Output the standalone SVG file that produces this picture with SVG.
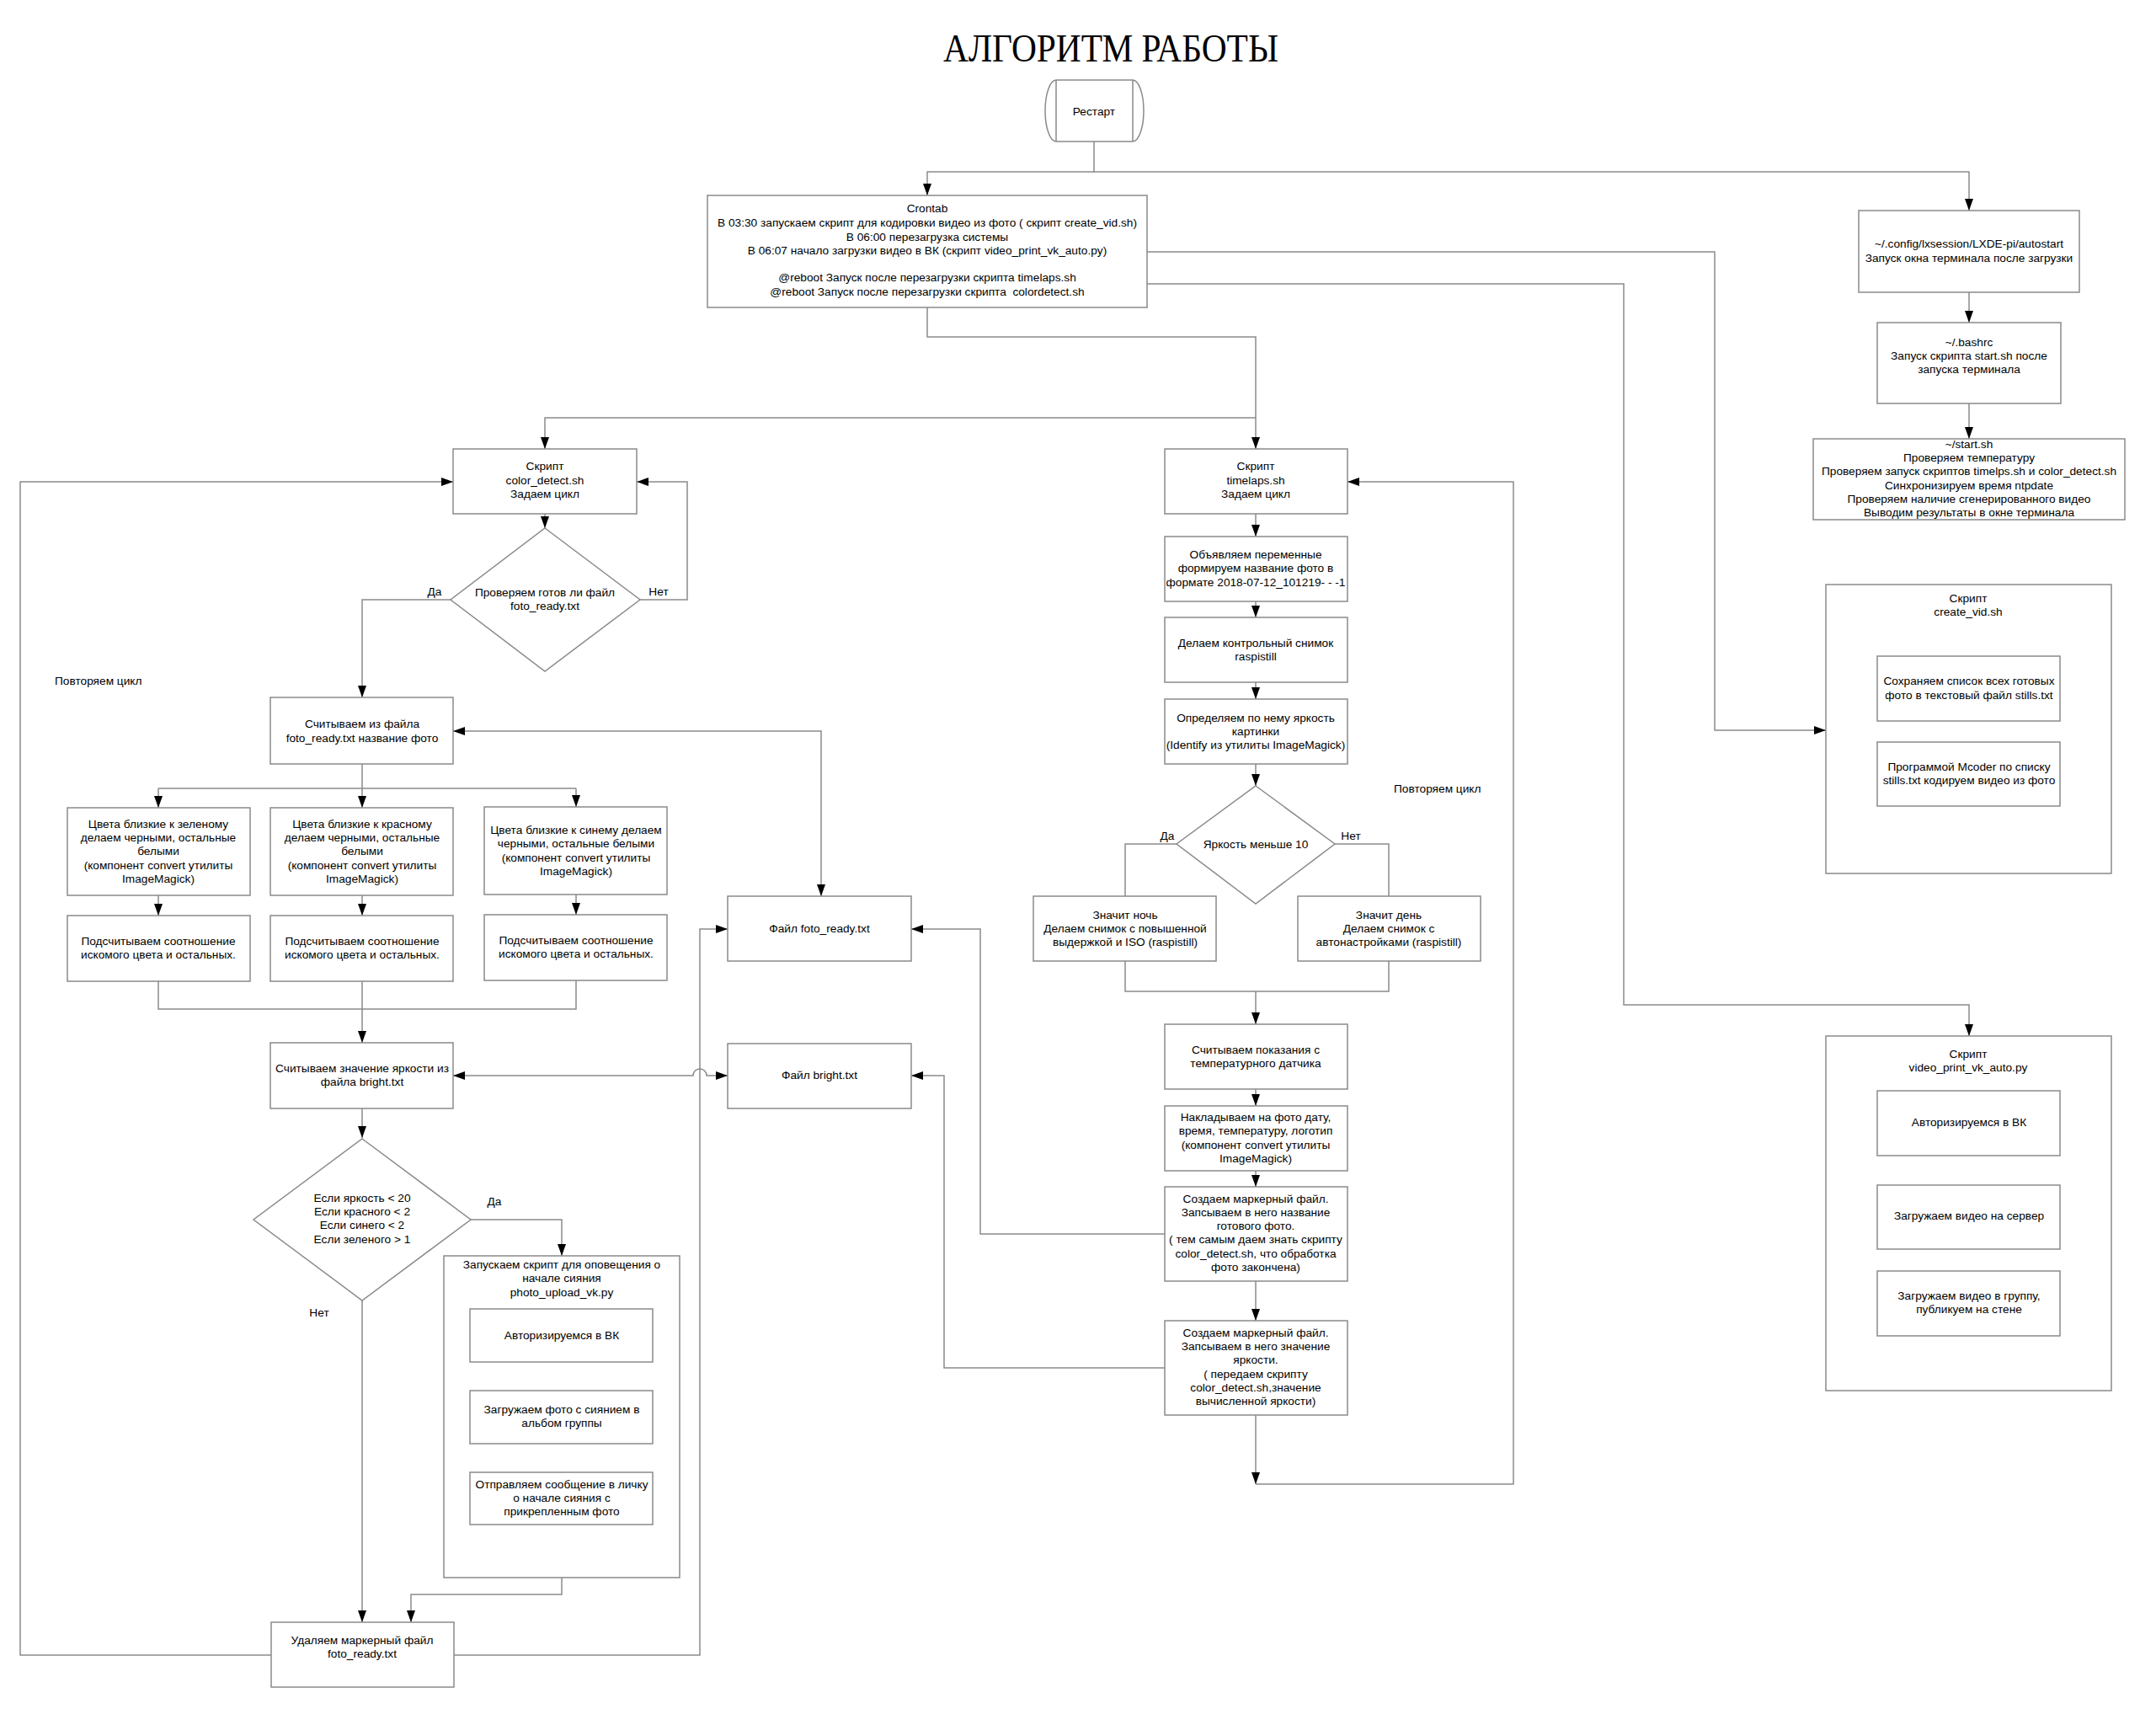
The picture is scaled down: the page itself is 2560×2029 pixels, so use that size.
<svg xmlns="http://www.w3.org/2000/svg" width="2560" height="2029" viewBox="0 0 2560 2029">
  <style>
    .b { fill: #fff; stroke: #8a8a8a; stroke-width: 1.5; }
    .c { fill: none; stroke: #8a8a8a; stroke-width: 1.5; }
    .a { marker-end: url(#ah); }
    .aa { marker-start: url(#ah); marker-end: url(#ah); }
    text { font-family: "Liberation Sans", Arial, sans-serif; font-size: 13.7px; fill: #000; white-space: pre; }
    .m { text-anchor: middle; }
  </style>
  <defs>
    <marker id="ah" viewBox="0 0 14 10" refX="14" refY="5" markerWidth="14" markerHeight="10" markerUnits="userSpaceOnUse" orient="auto-start-reverse">
      <path d="M0,0 L14,5 L0,10 z" fill="#000"/>
    </marker>
  </defs>
  <rect width="2560" height="2029" fill="#fff"/>

  <text x="1120" y="73" style="font-family:'Liberation Serif','Times New Roman',serif;font-size:46px" textLength="398" lengthAdjust="spacingAndGlyphs">АЛГОРИТМ РАБОТЫ</text>

  <!-- connectors -->
  <g id="connectors">
    <path class="c a" d="M1299,168 V204 H1101 V232"/>
    <path class="c a" d="M1299,204 H2338 V250"/>
    <path class="c a" d="M2338,347 V383"/>
    <path class="c a" d="M2338,479 V521"/>
    <path class="c a" d="M1362,299 H2036 V867 H2168"/>
    <path class="c a" d="M1362,337 H1928 V1193 H2338 V1230"/>
    <path class="c a" d="M1101,365 V400 H1491 V533"/>
    <path class="c a" d="M1491,496 H647 V533"/>
    <path class="c a" d="M2338,856 V881"/>
    <path class="c a" d="M2338,1372 V1407"/>
    <path class="c a" d="M2338,1483 V1509"/>

    <!-- color_detect loop -->
    <path class="c a" d="M647,610 V627"/>
    <path class="c a" d="M760,712 H816 V572 H756"/>
    <path class="c a" d="M535,712 H430 V828"/>
    <path class="c" d="M430,907 V936 M188,936 H684"/>
    <path class="c a" d="M188,936 V959"/>
    <path class="c a" d="M430,936 V959"/>
    <path class="c a" d="M684,936 V958"/>
    <path class="c a" d="M188,1063 V1087"/>
    <path class="c a" d="M430,1063 V1087"/>
    <path class="c a" d="M684,1062 V1086"/>
    <path class="c" d="M188,1165 V1198 H684 V1164"/>
    <path class="c a" d="M430,1165 V1238"/>
    <path class="c aa" d="M538,1277 H823 A8,8 0 0 1 839,1277 H864"/>
    <path class="c aa" d="M538,868 H975 V1064"/>
    <path class="c a" d="M430,1316 V1351"/>
    <path class="c a" d="M559,1448 H667 V1491"/>
    <path class="c a" d="M430,1544 V1926"/>
    <path class="c a" d="M667,1617 V1651"/>
    <path class="c a" d="M667,1714 V1748"/>
    <path class="c a" d="M667,1873 V1893 H488 V1926"/>
    <path class="c a" d="M322,1965 H24 V572 H538"/>
    <path class="c a" d="M539,1965 H831 V1103 H864"/>

    <!-- timelaps loop -->
    <path class="c a" d="M1491,610 V637"/>
    <path class="c a" d="M1491,714 V733"/>
    <path class="c a" d="M1491,810 V830"/>
    <path class="c a" d="M1491,907 V933"/>
    <path class="c" d="M1397,1002 H1336 V1064"/>
    <path class="c" d="M1585,1002 H1649 V1064"/>
    <path class="c" d="M1336,1141 V1177 H1649 V1141"/>
    <path class="c a" d="M1491,1177 V1216"/>
    <path class="c a" d="M1491,1293 V1313"/>
    <path class="c a" d="M1491,1390 V1409"/>
    <path class="c a" d="M1491,1521 V1568"/>
    <path class="c a" d="M1383,1465 H1164 V1103 H1082"/>
    <path class="c a" d="M1383,1624 H1121 V1277 H1082"/>
    <path class="c a" d="M1491,1680 V1762"/>
    <path class="c a" d="M1491,1762 H1797 V572 H1600"/>
  </g>

  <!-- labels on branches -->
  <g id="labels">
    <text class="m" x="516" y="707">Да</text>
    <text class="m" x="782" y="707">Нет</text>
    <text x="65" y="813">Повторяем цикл</text>
    <text class="m" x="1386" y="997">Да</text>
    <text class="m" x="1604" y="997">Нет</text>
    <text x="1655" y="941">Повторяем цикл</text>
    <text class="m" x="587" y="1431">Да</text>
    <text class="m" x="379" y="1563">Нет</text>
  </g>

  <g id="restart">
    <path class="b" d="M1254,95 H1345 A13,36.5 0 0 1 1345,168 H1254 A13,36.5 0 0 1 1254,95 Z"/>
    <path class="c" d="M1254,95 V168 M1345,95 V168"/>
    <text class="m" x="1299" y="137">Рестарт</text>
  </g>

  <g id="crontab">
    <rect class="b" x="840" y="232" width="522" height="133"/>
    <text class="m" x="1101" y="252">Crontab</text>
    <text class="m" x="1101" y="269">В 03:30 запускаем скрипт для кодировки видео из фото ( скрипт create_vid.sh)</text>
    <text class="m" x="1101" y="286">В 06:00 перезагрузка системы</text>
    <text class="m" x="1101" y="302">В 06:07 начало загрузки видео в ВК (скрипт video_print_vk_auto.py)</text>
    <text class="m" x="1101" y="334">@reboot Запуск после перезагрузки скрипта timelaps.sh</text>
    <text class="m" x="1101" y="351">@reboot Запуск после перезагрузки скрипта  colordetect.sh</text>
  </g>

  <g id="autostart">
    <rect class="b" x="2207" y="250" width="262" height="97"/>
    <text class="m" x="2338" y="294">~/.config/lxsession/LXDE-pi/autostart</text>
    <text class="m" x="2338" y="311">Запуск окна терминала после загрузки</text>
  </g>

  <g id="bashrc">
    <rect class="b" x="2229" y="383" width="218" height="96"/>
    <text class="m" x="2338" y="411">~/.bashrc</text>
    <text class="m" x="2338" y="427">Запуск скрипта start.sh после</text>
    <text class="m" x="2338" y="443">запуска терминала</text>
  </g>

  <g id="start-sh">
    <rect class="b" x="2153" y="521" width="370" height="96"/>
    <text class="m" x="2338" y="532">~/start.sh</text>
    <text class="m" x="2338" y="548">Проверяем температуру</text>
    <text class="m" x="2338" y="564">Проверяем запуск скриптов timelps.sh и color_detect.sh</text>
    <text class="m" x="2338" y="581">Синхронизируем время ntpdate</text>
    <text class="m" x="2338" y="597">Проверяем наличие сгенерированного видео</text>
    <text class="m" x="2338" y="613">Выводим результаты в окне терминала</text>
  </g>

  <g id="create-vid">
    <rect class="b" x="2168" y="694" width="339" height="343"/>
    <text class="m" x="2337" y="715">Скрипт</text>
    <text class="m" x="2337" y="731">create_vid.sh</text>
  </g>
  <g id="save-list">
    <rect class="b" x="2229" y="779" width="217" height="77"/>
    <text class="m" x="2338" y="813">Сохраняем список всех готовых</text>
    <text class="m" x="2338" y="830">фото в текстовый файл stills.txt</text>
  </g>
  <g id="mcoder">
    <rect class="b" x="2229" y="881" width="217" height="76"/>
    <text class="m" x="2338" y="915">Программой Mcoder по списку</text>
    <text class="m" x="2338" y="931">stills.txt кодируем видео из фото</text>
  </g>

  <g id="video-print">
    <rect class="b" x="2168" y="1230" width="339" height="421"/>
    <text class="m" x="2337" y="1256">Скрипт</text>
    <text class="m" x="2337" y="1272">video_print_vk_auto.py</text>
  </g>
  <g id="vk-auth">
    <rect class="b" x="2229" y="1295" width="217" height="77"/>
    <text class="m" x="2338" y="1337">Авторизируемся в ВК</text>
  </g>
  <g id="upload-server">
    <rect class="b" x="2229" y="1407" width="217" height="76"/>
    <text class="m" x="2338" y="1448">Загружаем видео на сервер</text>
  </g>
  <g id="upload-group">
    <rect class="b" x="2229" y="1509" width="217" height="77"/>
    <text class="m" x="2338" y="1543">Загружаем видео в группу,</text>
    <text class="m" x="2338" y="1559">публикуем на стене</text>
  </g>

  <!-- timelaps.sh -->
  <g id="timelaps">
    <rect class="b" x="1383" y="533" width="217" height="77"/>
    <text class="m" x="1491" y="558">Скрипт</text>
    <text class="m" x="1491" y="575">timelaps.sh</text>
    <text class="m" x="1491" y="591">Задаем цикл</text>
  </g>
  <g id="vars">
    <rect class="b" x="1383" y="637" width="217" height="77"/>
    <text class="m" x="1491" y="663">Объявляем переменные</text>
    <text class="m" x="1491" y="679">формируем название фото в</text>
    <text class="m" x="1491" y="696">формате 2018-07-12_101219- - -1</text>
  </g>
  <g id="test-shot">
    <rect class="b" x="1383" y="733" width="217" height="77"/>
    <text class="m" x="1491" y="768">Делаем контрольный снимок</text>
    <text class="m" x="1491" y="784">raspistill</text>
  </g>
  <g id="brightness">
    <rect class="b" x="1383" y="830" width="217" height="77"/>
    <text class="m" x="1491" y="857">Определяем по нему яркость</text>
    <text class="m" x="1491" y="873">картинки</text>
    <text class="m" x="1491" y="889">(Identify из утилиты ImageMagick)</text>
  </g>
  <g id="dark-check">
    <path class="b" d="M1491,933 L1585,1002 L1491,1073 L1397,1002 Z"/>
    <text class="m" x="1491" y="1007">Яркость меньше 10</text>
  </g>
  <g id="night">
    <rect class="b" x="1227" y="1064" width="217" height="77"/>
    <text class="m" x="1336" y="1091">Значит ночь</text>
    <text class="m" x="1336" y="1107">Делаем снимок с повышенной</text>
    <text class="m" x="1336" y="1123">выдержкой и ISO (raspistill)</text>
  </g>
  <g id="day">
    <rect class="b" x="1541" y="1064" width="217" height="77"/>
    <text class="m" x="1649" y="1091">Значит день</text>
    <text class="m" x="1649" y="1107">Делаем снимок с</text>
    <text class="m" x="1649" y="1123">автонастройками (raspistill)</text>
  </g>
  <g id="temperature">
    <rect class="b" x="1383" y="1216" width="217" height="77"/>
    <text class="m" x="1491" y="1251">Считываем показания с</text>
    <text class="m" x="1491" y="1267">температурного датчика</text>
  </g>
  <g id="overlay">
    <rect class="b" x="1383" y="1313" width="217" height="77"/>
    <text class="m" x="1491" y="1331">Накладываем на фото дату,</text>
    <text class="m" x="1491" y="1347">время, температуру, логотип</text>
    <text class="m" x="1491" y="1364">(компонент convert утилиты</text>
    <text class="m" x="1491" y="1380">ImageMagick)</text>
  </g>
  <g id="marker-photo">
    <rect class="b" x="1383" y="1409" width="217" height="112"/>
    <text class="m" x="1491" y="1428">Создаем маркерный файл.</text>
    <text class="m" x="1491" y="1444">Запсываем в него название</text>
    <text class="m" x="1491" y="1460">готового фото.</text>
    <text class="m" x="1491" y="1476">( тем самым даем знать скрипту</text>
    <text class="m" x="1491" y="1493">color_detect.sh, что обработка</text>
    <text class="m" x="1491" y="1509">фото закончена)</text>
  </g>
  <g id="marker-bright">
    <rect class="b" x="1383" y="1568" width="217" height="112"/>
    <text class="m" x="1491" y="1587">Создаем маркерный файл.</text>
    <text class="m" x="1491" y="1603">Запсываем в него значение</text>
    <text class="m" x="1491" y="1619">яркости.</text>
    <text class="m" x="1491" y="1636">( передаем скрипту</text>
    <text class="m" x="1491" y="1652">color_detect.sh,значение</text>
    <text class="m" x="1491" y="1668">вычисленной яркости)</text>
  </g>

  <!-- files -->
  <g id="file-foto-ready">
    <rect class="b" x="864" y="1064" width="218" height="77"/>
    <text class="m" x="973" y="1107">Файл foto_ready.txt</text>
  </g>
  <g id="file-bright">
    <rect class="b" x="864" y="1239" width="218" height="77"/>
    <text class="m" x="973" y="1281">Файл bright.txt</text>
  </g>

  <!-- color_detect.sh -->
  <g id="color-detect">
    <rect class="b" x="538" y="533" width="218" height="77"/>
    <text class="m" x="647" y="558">Скрипт</text>
    <text class="m" x="647" y="575">color_detect.sh</text>
    <text class="m" x="647" y="591">Задаем цикл</text>
  </g>
  <g id="ready-check">
    <path class="b" d="M647,627 L760,712 L647,797 L535,712 Z"/>
    <text class="m" x="647" y="708">Проверяем готов ли файл</text>
    <text class="m" x="647" y="724">foto_ready.txt</text>
  </g>
  <g id="read-name">
    <rect class="b" x="321" y="828" width="217" height="79"/>
    <text class="m" x="430" y="864">Считываем из файла</text>
    <text class="m" x="430" y="881">foto_ready.txt название фото</text>
  </g>
  <g id="green">
    <rect class="b" x="80" y="959" width="217" height="104"/>
    <text class="m" x="188" y="983">Цвета близкие к зеленому</text>
    <text class="m" x="188" y="999">делаем черными, остальные</text>
    <text class="m" x="188" y="1015">белыми</text>
    <text class="m" x="188" y="1032">(компонент convert утилиты</text>
    <text class="m" x="188" y="1048">ImageMagick)</text>
  </g>
  <g id="red">
    <rect class="b" x="321" y="959" width="217" height="104"/>
    <text class="m" x="430" y="983">Цвета близкие к красному</text>
    <text class="m" x="430" y="999">делаем черными, остальные</text>
    <text class="m" x="430" y="1015">белыми</text>
    <text class="m" x="430" y="1032">(компонент convert утилиты</text>
    <text class="m" x="430" y="1048">ImageMagick)</text>
  </g>
  <g id="blue">
    <rect class="b" x="575" y="958" width="217" height="104"/>
    <text class="m" x="684" y="990">Цвета близкие к синему делаем</text>
    <text class="m" x="684" y="1006">черными, остальные белыми</text>
    <text class="m" x="684" y="1023">(компонент convert утилиты</text>
    <text class="m" x="684" y="1039">ImageMagick)</text>
  </g>
  <g id="count-green">
    <rect class="b" x="80" y="1087" width="217" height="78"/>
    <text class="m" x="188" y="1122">Подсчитываем соотношение</text>
    <text class="m" x="188" y="1138">искомого цвета и остальных.</text>
  </g>
  <g id="count-red">
    <rect class="b" x="321" y="1087" width="217" height="78"/>
    <text class="m" x="430" y="1122">Подсчитываем соотношение</text>
    <text class="m" x="430" y="1138">искомого цвета и остальных.</text>
  </g>
  <g id="count-blue">
    <rect class="b" x="575" y="1086" width="217" height="78"/>
    <text class="m" x="684" y="1121">Подсчитываем соотношение</text>
    <text class="m" x="684" y="1137">искомого цвета и остальных.</text>
  </g>
  <g id="read-bright">
    <rect class="b" x="321" y="1238" width="217" height="78"/>
    <text class="m" x="430" y="1273">Считываем значение яркости из</text>
    <text class="m" x="430" y="1289">файла bright.txt</text>
  </g>
  <g id="aurora-check">
    <path class="b" d="M430,1352 L559,1448 L430,1544 L301,1448 Z"/>
    <text class="m" x="430" y="1427">Если яркость &lt; 20</text>
    <text class="m" x="430" y="1443">Если красного &lt; 2</text>
    <text class="m" x="430" y="1459">Если синего &lt; 2</text>
    <text class="m" x="430" y="1476">Если зеленого &gt; 1</text>
  </g>
  <g id="photo-upload">
    <rect class="b" x="527" y="1491" width="280" height="382"/>
    <text class="m" x="667" y="1506">Запускаем скрипт для оповещения о</text>
    <text class="m" x="667" y="1522">начале сияния</text>
    <text class="m" x="667" y="1539">photo_upload_vk.py</text>
  </g>
  <g id="photo-auth">
    <rect class="b" x="558" y="1554" width="217" height="63"/>
    <text class="m" x="667" y="1590">Авторизируемся в ВК</text>
  </g>
  <g id="photo-album">
    <rect class="b" x="558" y="1651" width="217" height="63"/>
    <text class="m" x="667" y="1678">Загружаем фото с сиянием в</text>
    <text class="m" x="667" y="1694">альбом группы</text>
  </g>
  <g id="photo-message">
    <rect class="b" x="558" y="1748" width="217" height="62"/>
    <text class="m" x="667" y="1767">Отправляем сообщение в личку</text>
    <text class="m" x="667" y="1783">о начале сияния с</text>
    <text class="m" x="667" y="1799">прикрепленным фото</text>
  </g>
  <g id="delete-marker">
    <rect class="b" x="322" y="1926" width="217" height="77"/>
    <text class="m" x="430" y="1952">Удаляем маркерный файл</text>
    <text class="m" x="430" y="1968">foto_ready.txt</text>
  </g>
</svg>
